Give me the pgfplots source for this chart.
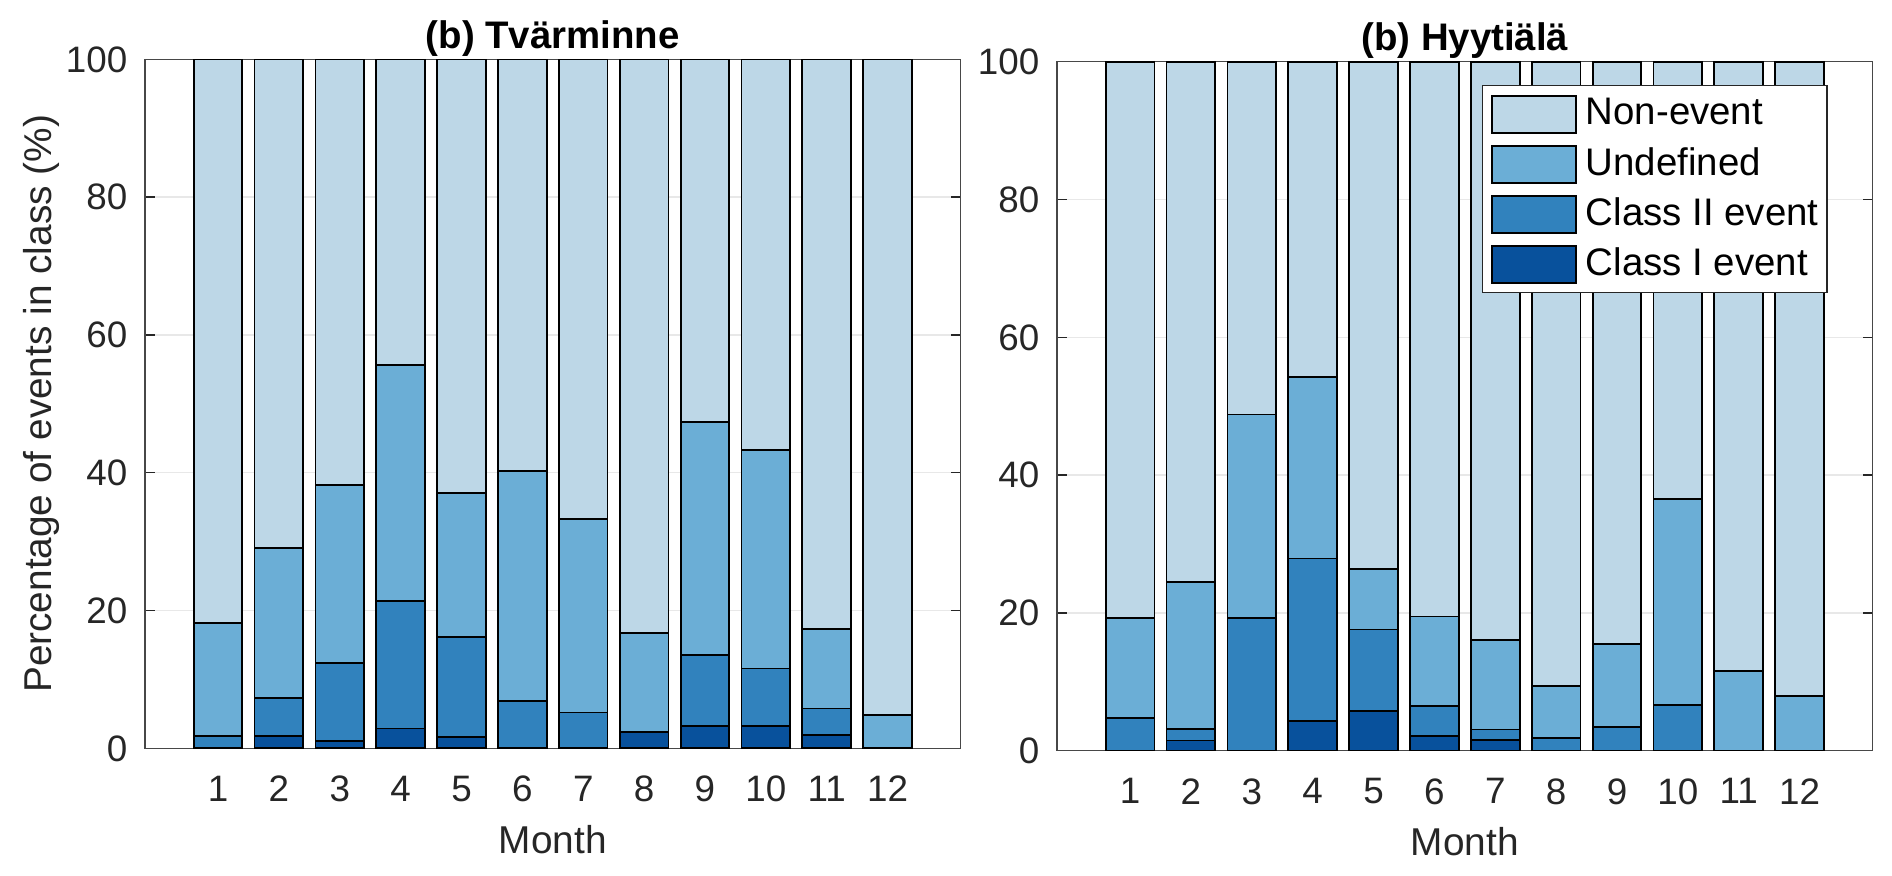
\documentclass[border=0pt]{standalone}
\usepackage{fontspec}
\setmainfont{Liberation Sans}
\usepackage{pgfplots}
\usepackage{pgfplotstable}
\pgfplotsset{compat=1.18}
\definecolor{cN}{HTML}{BDD7E7}
\definecolor{cU}{HTML}{6BAED6}
\definecolor{cII}{HTML}{3182BD}
\definecolor{cI}{HTML}{08519C}
\definecolor{axc}{HTML}{262626}

\pgfplotstableread{
m I II U N
1 0 1.8 16.4 81.8
2 1.8 5.5 21.8 70.9
3 1.1 11.3 25.8 61.8
4 2.9 18.5 34.3 44.3
5 1.6 14.6 20.9 62.9
6 0 6.9 33.4 59.7
7 0 5.2 28.1 66.7
8 2.4 0 14.3 83.3
9 3.3 10.3 33.8 52.6
10 3.3 8.3 31.7 56.7
11 1.9 3.9 11.5 82.7
12 0 0 4.9 95.1
}\tvar

\pgfplotstableread{
m I II U N
1 0 4.8 14.5 80.7
2 1.5 1.7 21.3 75.5
3 0 19.3 29.5 51.2
4 4.3 23.6 26.4 45.7
5 5.8 11.8 8.8 73.6
6 2.1 4.4 13.0 80.5
7 1.6 1.5 13.0 83.9
8 0 1.9 7.5 90.6
9 0 3.4 12.1 84.5
10 0 6.6 30.0 63.4
11 0 0 11.6 88.4
12 0 0 8.0 92.0
}\hyyt

\pgfplotsset{
  layers/mylayers/.define layer set={axis background,axis grid,main,axis ticks,axis lines,axis tick labels,axis descriptions,axis foreground}{},
  myax/.style={
    set layers=mylayers,
    scale only axis, width=203.9pt, height=172.25pt,
    xmin=-0.2, xmax=13.2, ymin=0, ymax=100,
    ybar stacked, bar width=0.8,
    xtick={1,...,12}, ytick={0,20,...,100},
    tick align=inside, major tick length=2.4pt,
    ymajorgrids, grid style={draw=black!9, line width=0.35pt},
    axis line style={draw=axc!85, line width=0.35pt},
    major tick style={draw=axc, line width=0.35pt},
    ticklabel style={font=\fontsize{9.2}{11}\selectfont, text=axc},
    /pgf/number format/assume math mode=true,
    xticklabel style={yshift=-3.4pt},
    yticklabel style={xshift=-0.9pt},
    title style={at={(axis description cs:0.5,1)}, anchor=base, yshift=-3.25pt, font=\bfseries\fontsize{9.6}{11}\selectfont, text=black},
    xlabel style={at={(axis description cs:0.5,0)}, anchor=base, yshift=-26.25pt, font=\fontsize{9.7}{11}\selectfont, text=axc},
    ylabel style={at={(axis description cs:-0.1145,0.5)}, anchor=base, font=\fontsize{9.7}{11}\selectfont, text=axc},
    xlabel={Month},
    every axis plot/.append style={draw=black, line width=0.45pt},
  }
}

\begin{document}
\begin{tikzpicture}
\begin{axis}[myax, title={(b) Tvärminne}, ylabel={Percentage of events in class (\%)}]
\addplot[fill=cI] table[x=m,y=I]{\tvar};
\addplot[fill=cII] table[x=m,y=II]{\tvar};
\addplot[fill=cU] table[x=m,y=U]{\tvar};
\addplot[fill=cN] table[x=m,y=N]{\tvar};
\end{axis}
\begin{axis}[myax, at={(228pt,-0.6pt)}, title={(b) Hyytiälä},
  reverse legend,
  legend image code/.code={\draw[#1, draw=black, line width=0.45pt] (0pt,-4.6pt) rectangle (21pt,4.6pt);},
  legend style={at={(axis description cs:0.9448,0.9663)}, anchor=north east, draw=axc, line width=0.35pt, fill=white, inner xsep=2.1pt, inner ysep=2.3pt, row sep=2.85pt, column sep=2.25pt, font=\fontsize{9.6}{11}\selectfont, cells={anchor=west}, nodes={inner sep=0pt}}]
\addplot[fill=cI] table[x=m,y=I]{\hyyt};
\addlegendentry{Class I event}
\addplot[fill=cII] table[x=m,y=II]{\hyyt};
\addlegendentry{Class II event}
\addplot[fill=cU] table[x=m,y=U]{\hyyt};
\addlegendentry{Undefined}
\addplot[fill=cN] table[x=m,y=N]{\hyyt};
\addlegendentry{Non-event}
\end{axis}
\pgfresetboundingbox
\path[use as bounding box] (-36.25pt,-31.9pt) rectangle (436.75pt,187.1pt);
\end{tikzpicture}
\end{document}
